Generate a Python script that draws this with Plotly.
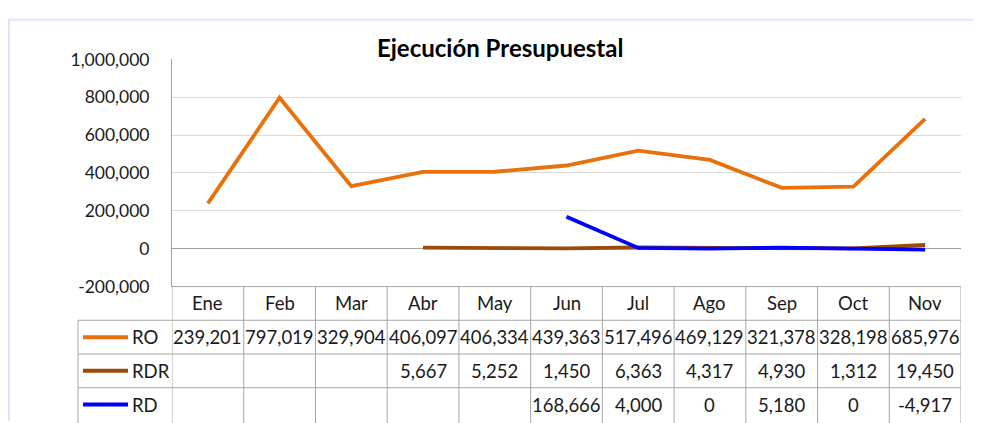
import plotly.graph_objects as go

months = ["Ene", "Feb", "Mar", "Abr", "May", "Jun", "Jul", "Ago", "Sep", "Oct", "Nov"]
ro = [239201, 797019, 329904, 406097, 406334, 439363, 517496, 469129, 321378, 328198, 685976]
rdr = [None, None, None, 5667, 5252, 1450, 6363, 4317, 4930, 1312, 19450]
rd = [None, None, None, None, None, 168666, 4000, 0, 5180, 0, -4917]
series_names = ["RO", "RDR", "RD"]
series_colors = ["#E8710C", "#9A4A0A", "#0000FF"]
y_ticks = [-200000, 0, 200000, 400000, 600000, 800000, 1000000]
title_text = "Ejecución Presupuestal"

W, H = 981, 423
FONT = "Lato"

# map target (screenshot) pixel positions to paper fractions
def fx(xo):
    return (xo - 8) / W

def fy(yo):
    return 1 - ((yo - 16.3) / 0.958) / H

X0, X1 = 172, 961
Y_TOP, Y_BOT = 57, 286

fig = go.Figure()
for name, vals, col in zip(series_names, [ro, rdr, rd], series_colors):
    fig.add_trace(go.Scatter(x=list(range(len(months))), y=vals, mode="lines", name=name,
                             line=dict(color=col, width=3.8), connectgaps=False))

shapes = []
annotations = []
grid_col = "#A6A6A6"
row_edges = [286, 320, 354, 388, 430]
shapes.append(dict(type="line", xref="paper", yref="paper", x0=fx(X0), x1=fx(X1),
                   y0=fy(row_edges[0]), y1=fy(row_edges[0]), line=dict(color=grid_col, width=1)))
for ry in row_edges[1:4]:
    shapes.append(dict(type="line", xref="paper", yref="paper", x0=fx(78), x1=fx(X1),
                       y0=fy(ry), y1=fy(ry), line=dict(color=grid_col, width=1)))
for k in range(len(months) + 1):
    shapes.append(dict(type="line", xref="x", yref="paper", x0=k - 0.5, x1=k - 0.5,
                       y0=fy(row_edges[0]), y1=fy(row_edges[-1]), line=dict(color=grid_col, width=1)))
shapes.append(dict(type="line", xref="paper", yref="paper", x0=fx(78), x1=fx(78),
                   y0=fy(row_edges[1]), y1=fy(row_edges[-1]), line=dict(color=grid_col, width=1)))
# frame
shapes.append(dict(type="line", xref="paper", yref="paper", x0=fx(8), x1=1, y0=0.998, y1=0.998,
                   line=dict(color="#DCE6F4", width=2)))
shapes.append(dict(type="line", xref="paper", yref="paper", x0=fx(9), x1=fx(9), y0=1, y1=0,
                   line=dict(color="#DCE6F4", width=2)))

tfont = dict(family=FONT, size=18.5, color="#1a1a1a")
for i, m in enumerate(months):
    annotations.append(dict(x=i, y=fy(303), xref="x", yref="paper",
                            text=m, showarrow=False, font=tfont, xanchor="center", yanchor="middle"))
row_centers = [337, 371, 405]
for r, (name, vals, col) in enumerate(zip(series_names, [ro, rdr, rd], series_colors)):
    yc = fy(row_centers[r])
    shapes.append(dict(type="line", xref="paper", yref="paper", x0=fx(83), x1=fx(128), y0=yc, y1=yc,
                       line=dict(color=col, width=4)))
    annotations.append(dict(x=fx(130), y=yc, xref="paper", yref="paper", text=name, showarrow=False,
                            font=tfont, xanchor="left", yanchor="middle"))
    for i, v in enumerate(vals):
        if v is None:
            continue
        annotations.append(dict(x=i, y=yc, xref="x", yref="paper", text=f"{v:,}", showarrow=False,
                                font=tfont, xanchor="center", yanchor="middle"))

annotations.append(dict(x=fx(500), y=fy(45), xref="paper", yref="paper", text=f"<b>{title_text}</b>",
                        showarrow=False, font=dict(family=FONT, size=24, color="#000000"),
                        xanchor="center", yanchor="middle"))

fig.update_layout(
    width=W, height=H, margin=dict(l=0, r=0, t=0, b=0),
    paper_bgcolor="white", plot_bgcolor="white", showlegend=False,
    xaxis=dict(domain=[fx(X0), fx(X1)], range=[-0.5, len(months) - 0.5], showticklabels=False,
               showgrid=False, zeroline=False, fixedrange=True),
    yaxis=dict(domain=[fy(Y_BOT), fy(Y_TOP)], range=[-200000, 1000000], tickvals=y_ticks,
               ticktext=[f"{v:,}" for v in y_ticks], tickfont=dict(family=FONT, size=17.5, color="#1a1a1a"),
               showgrid=True, gridcolor="#D9D9D9", gridwidth=1, zeroline=True, zerolinecolor="#A0A0A0",
               zerolinewidth=1, showline=True, linecolor="#A0A0A0", ticks="", ticklabelstandoff=18),
    shapes=shapes, annotations=annotations,
)
fig.write_html("out.html")
